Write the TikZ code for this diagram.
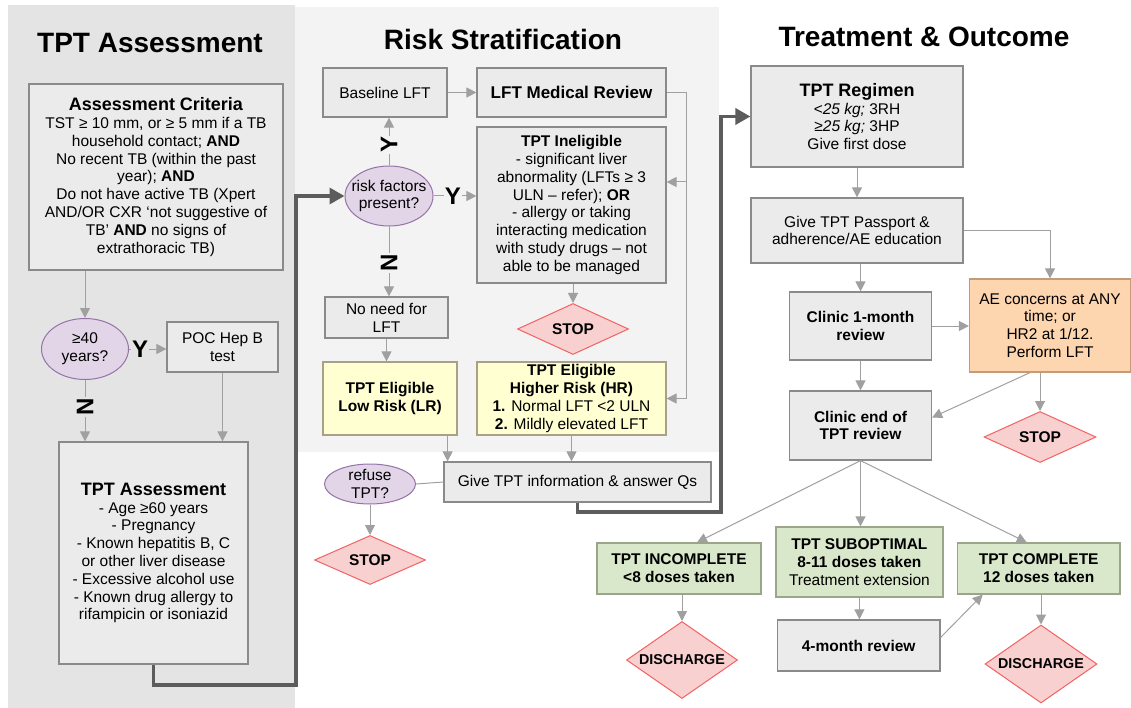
\documentclass[tikz,border=0pt]{standalone}
\usepackage{fontspec}
\setmainfont{Liberation Sans}
\usetikzlibrary{shapes.geometric,arrows.meta}
\definecolor{panelA}{HTML}{E4E4E4}
\definecolor{panelB}{HTML}{F3F3F3}
\definecolor{boxfill}{HTML}{EBEBEB}
\definecolor{boxline}{HTML}{8A8A8A}
\definecolor{ellfill}{HTML}{E1D5E7}
\definecolor{ellline}{HTML}{9673A6}
\definecolor{yelfill}{HTML}{FFFFD2}
\definecolor{yelline}{HTML}{A8A088}
\definecolor{grnfill}{HTML}{D9E7CB}
\definecolor{grnline}{HTML}{9AA58C}
\definecolor{orgfill}{HTML}{FDD5AF}
\definecolor{orgline}{HTML}{C49A78}
\definecolor{stopfill}{HTML}{F9D0D0}
\definecolor{stopline}{HTML}{F26262}
\definecolor{arrline}{HTML}{A0A0A0}
\definecolor{bigline}{HTML}{5C5C5C}
\newcommand{\boxhead}[1]{{\fontsize{18}{20.5}\selectfont\bfseries #1}}

\begin{document}
\begin{tikzpicture}[x=1pt,y=-1pt,
		txt/.style={font=\fontsize{15.5}{17.8}\selectfont, align=center},
		sz/.style 2 args={minimum width=#1pt, minimum height=#2pt},
		box/.style={txt, rectangle, draw=boxline, fill=boxfill, line width=1.2pt, inner sep=2pt},
		ybox/.style={box, draw=yelline, fill=yelfill},
		gbox/.style={box, draw=grnline, fill=grnfill},
		obox/.style={box, draw=orgline, fill=orgfill},
		ell/.style={txt, ellipse, draw=ellline, fill=ellfill, line width=1pt, inner xsep=-12pt, inner ysep=-6pt},
		stopsign/.style={txt, diamond, draw=stopline, fill=stopfill, line width=1pt, inner sep=0pt, font=\fontsize{15.5}{17.8}\selectfont\bfseries},
		ttl/.style={font=\fontsize{28}{30}\selectfont\bfseries},
		yn/.style={font=\fontsize{24}{24}\selectfont\bfseries, inner sep=1pt},
		arr/.style={draw=arrline, line width=1pt, -{Triangle[length=10pt,width=10pt]}},
		link/.style={draw=arrline, line width=1pt},
		bigarr/.style={draw=bigline, line width=3.5pt, -{Triangle[length=15pt,width=16pt]}}]
	\useasboundingbox (0,0) rectangle (1131,708);

	% Draw panels.
	\fill[panelA] (8,5) rectangle (295,708);
	\fill[panelB] (295,7) rectangle (719,452);
	\node[ttl] (ttlA) at (150,43) {TPT Assessment};
	\node[ttl] (ttlB) at (503,39) {Risk Stratification};
	\node[ttl] (ttlC) at (924,37) {Treatment \& Outcome};

	% TPT assessment column.
	\node[box, sz={254}{186}] (crit) at (156,177) {\boxhead{Assessment Criteria}\\TST ≥ 10 mm, or ≥ 5 mm if a TB\\household contact; \textbf{AND}\\No recent TB (within the past\\year); \textbf{AND}\\Do not have active TB (Xpert\\AND/OR CXR ‘not suggestive of\\TB’ \textbf{AND} no signs of\\extrathoracic TB)};
	\node[ell, sz={87}{61}] (age) at (85,349) {≥40\\years?};
	\node[box, sz={111}{50}] (hepb) at (222.5,347) {POC Hep B\\test};
	\node[box, sz={189}{222}] (tptA) at (153.5,553) {\boxhead{TPT Assessment}\\- Age ≥60 years\\- Pregnancy\\- Known hepatitis B, C\\or other liver disease\\- Excessive alcohol use\\- Known drug allergy to\\rifampicin or isoniazid};

	\draw[arr] (age.north |- crit.south) -- (age.north);
	\draw[arr] (age.east) -- (age.east -| hepb.west) node[yn, fill=panelA, pos=0.3] {Y};
	\draw[arr] (age.south) -- (age.south |- tptA.north) node[yn, fill=panelA, rotate=90, pos=0.44] {N};
	\draw[arr] (hepb.south) -- (hepb.south |- tptA.north);

	% Risk stratification column.
	\node[box, sz={124}{49}] (base) at (385,92.5) {Baseline LFT};
	\node[box, sz={189}{49}, font=\fontsize{17}{19}\selectfont\bfseries] (lftmr) at (571.5,92.5) {LFT Medical Review};
	\node[ell, sz={88}{60}] (risk) at (389,196) {risk factors\\present?};
	\node[box, sz={189}{156}] (inel) at (571.5,205) {\textbf{TPT Ineligible}\\- significant liver\\abnormality (LFTs ≥ 3\\ULN – refer); \textbf{OR}\\- allergy or taking\\interacting medication\\with study drugs – not\\able to be managed};
	\node[stopsign, sz={111}{51}, aspect=2.18] (stop1) at (573,329) {STOP};
	\node[box, sz={123}{41}] (noneed) at (386.5,317.5) {No need for\\LFT};
	\node[ybox, sz={134}{73}, font=\fontsize{15.5}{17.8}\selectfont\bfseries] (lr) at (390,398.5) {TPT Eligible\\Low Risk (LR)};
	\node[ybox, sz={189}{73}] (hr) at (571.5,398.5) {\textbf{TPT Eligible}\\\textbf{Higher Risk (HR)}\\\textbf{1.} Normal LFT <2 ULN\\\textbf{2.} Mildly elevated LFT};
	\node[box, sz={267}{40}] (give) at (577.5,482) {Give TPT information \& answer Qs};
	\node[ell, sz={91}{40}] (refuse) at (370,484) {refuse\\TPT?};
	\node[stopsign, sz={111}{49}, aspect=2.26] (stop2) at (370,560) {STOP};

	\draw[bigarr] (tptA.south) |- (296,685) |- (risk.west);
	\draw[arr] (base.east) -- (lftmr.west);
	\draw[arr] (risk.north) -- (risk.north |- base.south) node[yn, fill=panelB, rotate=90, pos=0.43] {Y};
	\draw[arr] (risk.east) -- (risk.east -| inel.west) node[yn, fill=panelB, pos=0.45] {Y};
	\draw[arr] (risk.south) -- (risk.south |- noneed.north) node[yn, fill=panelB, rotate=90, pos=0.52] {N};
	\coordinate (rside) at (686,182);
	\draw[arr] (lftmr.east) -| (rside) |- (hr.east);
	\draw[arr] (rside) -- (rside -| inel.east);
	\draw[arr] (stop1.north |- inel.south) -- (stop1.north);
	\draw[arr] (noneed.south) -- (noneed.south |- lr.north);
	\draw[arr] ([xshift=-10pt]lr.south east) -- ([xshift=-10pt]lr.south east |- give.north);
	\draw[arr] (hr.south) -- (hr.south |- give.north);
	\draw[link] (give.west) -- (refuse.east);
	\draw[arr] (refuse.south) -- (stop2.north);

	% Treatment and outcome column.
	\node[box, sz={212}{101}] (regimen) at (857,116.5) {\boxhead{TPT Regimen}\\\textit{<25 kg;} 3RH\\\textit{≥25 kg;} 3HP\\Give first dose};
	\node[box, sz={212}{65}] (passport) at (857,230.5) {Give TPT Passport \&\\adherence/AE education};
	\node[box, sz={142}{68}, font=\fontsize{15.5}{17.8}\selectfont\bfseries] (clinic1) at (860.5,326) {Clinic 1-month\\review};
	\node[obox, sz={161}{93}] (ae) at (1050,325.5) {AE concerns at ANY\\time; or\\HR2 at 1/12.\\Perform LFT};
	\node[box, sz={142}{69}, font=\fontsize{15.5}{17.8}\selectfont\bfseries] (clinicend) at (860.5,425.5) {Clinic end of\\TPT review};
	\node[stopsign, sz={112}{51}, aspect=2.2] (stop3) at (1040,437) {STOP};
	\node[gbox, sz={164}{51}, font=\fontsize{15.5}{17.8}\selectfont\bfseries] (incomp) at (679,568.5) {TPT INCOMPLETE\\<8 doses taken};
	\node[gbox, sz={167}{70}] (subopt) at (859.4,562) {\textbf{TPT SUBOPTIMAL}\\\textbf{8-11 doses taken}\\Treatment extension};
	\node[gbox, sz={162.5}{51}, font=\fontsize{15.5}{17.8}\selectfont\bfseries] (comp) at (1038.7,568.5) {TPT COMPLETE\\12 doses taken};
	\node[stopsign, sz={111}{77}, aspect=1.44, font=\fontsize{14.3}{16}\selectfont\bfseries] (dis1) at (682,660) {DISCHARGE};
	\node[box, sz={162.5}{51}, font=\fontsize{15.5}{17.8}\selectfont\bfseries] (month4) at (858.7,645.5) {4-month review};
	\node[stopsign, sz={112}{78}, aspect=1.44, font=\fontsize{14.3}{16}\selectfont\bfseries] (dis2) at (1041,664) {DISCHARGE};

	\draw[bigarr] (give.south) |- (721,512) |- (regimen.west);
	\draw[arr] (regimen.south) -- (passport.north);
	\draw[arr] (clinic1.north |- passport.south) -- (clinic1.north);
	\draw[arr] (passport.east) -| (ae.north);
	\draw[arr] (clinic1.east) -- (clinic1.east -| ae.west);
	\draw[arr] (stop3.north |- ae.south) -- (stop3.north);
	\draw[arr] ([xshift=-20pt]ae.south) -- ([yshift=8pt]clinicend.east);
	\draw[arr] (clinic1.south) -- (clinicend.north);
	\draw[arr] (clinicend.south) -- ([xshift=18pt]incomp.north);
	\draw[arr] (clinicend.south) -- (clinicend.south |- subopt.north);
	\draw[arr] (clinicend.south) -- ([xshift=-12pt]comp.north);
	\draw[arr] (dis1.north |- incomp.south) -- (dis1.north);
	\draw[arr] (subopt.south) -- (subopt.south |- month4.north);
	\draw[arr] ([yshift=8pt]month4.east) -- ([xshift=-56pt]comp.south);
	\draw[arr] (dis2.north |- comp.south) -- (dis2.north);
\end{tikzpicture}
\end{document}
